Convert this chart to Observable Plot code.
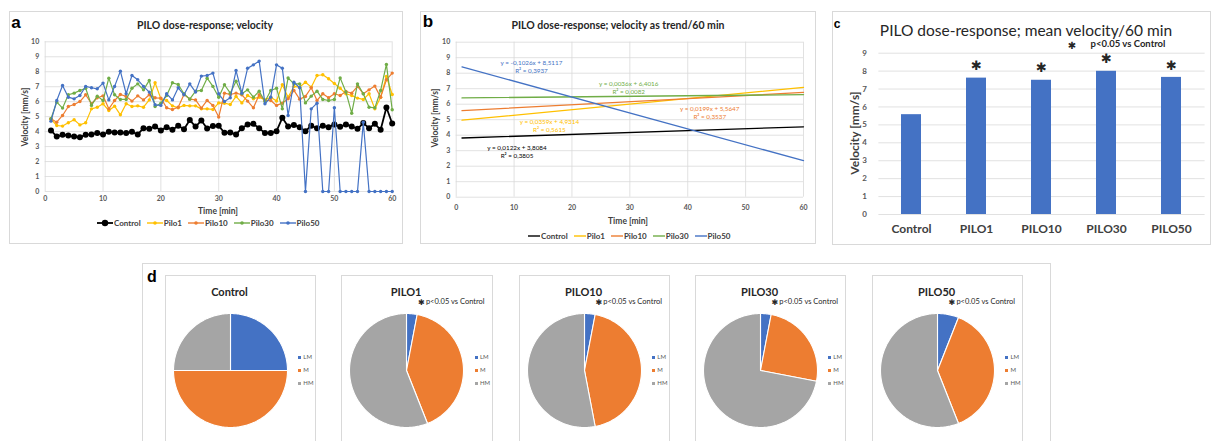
<!DOCTYPE html>
<html><head><meta charset="utf-8">
<script src="https://cdn.jsdelivr.net/npm/d3@7"></script>
<script src="https://cdn.jsdelivr.net/npm/@observablehq/plot@0.6"></script>
<style>
html,body{margin:0;padding:0;background:#fff}
body{position:relative;width:1211px;height:441px;overflow:hidden;font-family:Lato,"Open Sans",sans-serif;color:#404040}
.box{position:absolute;box-sizing:border-box;border:1px solid #d9d9d9;background:#fff}
.pl{position:absolute;line-height:0}
.pl svg{overflow:visible}
.t{position:absolute;white-space:pre;line-height:1}
.leg{position:absolute;display:flex;align-items:center;font-weight:700;font-size:8px;color:#404040;white-space:nowrap}
.leg .it{display:flex;align-items:center;margin-right:6px}
.leg svg{margin-right:1px}
.pleg{position:absolute;font-size:6px;color:#595959;line-height:1}
.pleg div{display:flex;align-items:center;height:13px}
.pleg i{display:inline-block;width:3px;height:3px;margin-right:2px}
</style></head><body>
<script>
// ---------------- data ----------------
const timeMin = [1,2,3,4,5,6,7,8,9,10,11,12,13,14,15,16,17,18,19,20,21,22,23,24,25,26,27,28,29,30,
  31,32,33,34,35,36,37,38,39,40,41,42,43,44,45,46,47,48,49,50,51,52,53,54,55,56,57,58,59,60];
const seriesNames = ["Control","Pilo1","Pilo10","Pilo30","Pilo50"];
const controlVel = [4.08,3.67,3.79,3.74,3.67,3.63,3.79,3.81,3.90,3.81,3.99,3.94,3.94,3.90,3.99,3.81,4.23,4.19,4.34,4.08,
  4.30,4.12,4.39,4.16,4.77,4.34,4.74,4.21,4.37,4.39,3.92,3.94,3.81,4.23,4.48,4.52,4.23,3.90,3.90,4.03,
  4.92,4.34,4.45,4.30,4.03,4.39,4.23,4.39,4.30,4.48,4.32,4.48,4.34,4.19,4.57,4.23,4.52,4.12,5.61,4.54];
const pilo1Vel = [4.83,4.41,4.37,4.59,4.79,4.45,4.59,5.52,5.63,5.86,5.41,5.70,5.12,5.86,5.68,5.72,5.63,6.12,7.26,6.19,
  6.08,5.72,5.59,5.75,5.72,5.72,5.52,5.52,5.48,5.92,5.90,5.81,6.35,5.92,6.41,6.19,6.30,6.12,6.30,6.05,
  7.13,6.30,7.02,6.97,7.30,6.97,7.75,7.80,7.53,7.22,6.90,6.53,6.41,6.24,6.15,6.53,5.52,6.30,7.68,6.48];
const pilo10Vel = [4.86,4.63,5.08,5.68,5.81,6.01,6.46,5.86,6.26,6.39,5.52,6.08,6.48,6.35,6.04,6.39,6.12,6.46,6.26,6.24,
  5.59,5.48,5.63,6.48,6.17,6.12,5.57,6.08,5.75,4.97,6.57,6.48,6.57,6.46,6.04,5.59,6.46,6.08,6.08,5.75,
  5.90,6.19,6.75,6.17,6.35,6.93,6.08,6.53,6.26,6.53,6.41,6.68,6.57,7.02,6.53,6.79,7.04,6.30,7.46,7.91];
const pilo30Vel = [4.86,5.97,5.57,6.46,6.57,6.75,6.90,5.75,6.37,6.08,7.57,6.46,6.15,6.15,6.90,7.19,6.79,7.42,5.68,5.90,
  6.41,7.26,7.15,6.53,6.17,6.70,6.75,7.57,7.02,6.30,7.13,6.57,7.37,6.53,6.79,6.30,6.70,6.01,6.75,6.90,
  5.52,7.59,7.19,7.19,5.92,6.37,6.70,6.15,6.08,6.15,7.59,6.64,5.23,7.19,6.53,5.63,5.59,6.75,8.49,5.46];
const pilo50Vel = [4.70,6.08,7.08,6.30,6.19,6.41,7.02,6.93,6.86,7.24,6.12,7.02,8.04,6.53,7.75,7.46,7.02,6.64,5.79,5.75,
  6.53,6.12,6.93,6.46,7.19,6.64,7.71,7.75,7.91,6.53,6.01,6.26,8.08,6.57,8.24,8.46,8.71,5.86,6.30,8.46,
  8.24,5.08,7.30,6.93,0,5.52,5.90,0,0,5.59,0,0,0,0,4.63,0,0,0,0,0];
const velocityTicks = [0,1,2,3,4,5,6,7,8,9,10];
const timeTicks = [0,10,20,30,40,50,60];

const trendSlope = [0.0122,0.0359,0.0199,0.0036,-0.1026];
const trendIntercept = [3.8084,4.9314,5.5647,6.4016,8.5117];
const trendR2 = [0.3805,0.5615,0.3537,0.0082,0.3937];

const groups = ["Control","PILO1","PILO10","PILO30","PILO50"];
const meanVelocity = [5.57,7.61,7.49,7.99,7.65];
const significant = [false,true,true,true,true];
const meanTicks = [0,1,2,3,4,5,6,7,8,9];

const motilityClasses = ["LM","M","HM"];
const shareControl = [25,50,25];
const sharePilo1 = [3,41,56];
const sharePilo10 = [3,44,53];
const sharePilo30 = [3,25,72];
const sharePilo50 = [6,38,56];
const pieTitles = ["Control","PILO1","PILO10","PILO30","PILO50"];
const pieSignificant = [false,true,true,true,true];

// ---------------- styles ----------------
const seriesColors = ["#000000","#FFC000","#ED7D31","#70AD47","#4472C4"];
const classColors = ["#4472C4","#ED7D31","#A5A5A5"];
const velocity = [controlVel,pilo1Vel,pilo10Vel,pilo30Vel,pilo50Vel];
const pieShares = [shareControl,sharePilo1,sharePilo10,sharePilo30,sharePilo50];
const gridStyle = {stroke:"#d9d9d9", strokeOpacity:1, strokeWidth:0.8};
const axisFont = {fontWeight:"bold"};

function addBox(l,t,w,h){const d=document.createElement("div");d.className="box";
  Object.assign(d.style,{left:l+"px",top:t+"px",width:w+"px",height:h+"px"});document.body.appendChild(d);return d;}
function addText(s,cx,cy,css,rot){const d=document.createElement("div");d.className="t";d.textContent=s;
  Object.assign(d.style,{left:cx+"px",top:cy+"px",transform:"translate(-50%,-50%)"+(rot?" rotate(-90deg)":"")},css||{});
  document.body.appendChild(d);return d;}
function addPlot(svg,l,t){const d=document.createElement("div");d.className="pl";d.style.left=l+"px";d.style.top=t+"px";
  d.appendChild(svg);document.body.appendChild(d);return d;}
function fmtDec(v){return v.toFixed(4).replace(".",",");}
function lineLegend(l,t,big){
  const lg=document.createElement("div");lg.className="leg";lg.style.left=l+"px";lg.style.top=t+"px";
  seriesNames.forEach((s,i)=>{
    const it=document.createElement("span");it.className="it";
    const w=big?16:12;
    let sw=`<svg width="${w}" height="8"><line x1="0" x2="${w}" y1="4" y2="4" stroke="${seriesColors[i]}" stroke-width="${big&&i===0?1.8:1.4}"/>`;
    if(big) sw+=`<circle cx="${w/2}" cy="4" r="${i===0?3.2:1.8}" fill="${seriesColors[i]}"/>`;
    sw+=`</svg>`;
    it.innerHTML=sw+`<span>${s}</span>`;lg.appendChild(it);
  });
  document.body.appendChild(lg);return lg;
}

const titleCss = {fontWeight:"700",fontSize:"10.5px",color:"#262626"};
const axTitleCss = {fontWeight:"700",fontSize:"8.5px",color:"#404040"};
const letterCss = {fontFamily:"'Liberation Sans',Arial,sans-serif",fontWeight:"700",fontSize:"17px",color:"#000"};

// ================= panel a =================
addBox(9,11,394,233);
addText("a",16,22,letterCss);
addText("PILO dose-response; velocity",205,25,titleCss);
const recordsA = seriesNames.flatMap((s,i)=>timeMin.map((t,j)=>({series:s,t,v:velocity[i][j]})));
const marksA = [
  Plot.gridY(velocityTicks,gridStyle), Plot.gridX(timeTicks,gridStyle),
  Plot.axisX(timeTicks,{tickSize:0,tickPadding:5,label:null,...axisFont}),
  Plot.axisY(velocityTicks,{tickSize:0,tickPadding:6,label:null,...axisFont})
];
seriesNames.forEach((s,i)=>{
  const rows=recordsA.filter(d=>d.series===s);
  marksA.push(Plot.line(rows,{x:"t",y:"v",stroke:"series",strokeWidth:i===0?1.8:1.2}));
  marksA.push(Plot.dot(rows,{x:"t",y:"v",fill:"series",r:i===0?3:1.7}));
});
addPlot(Plot.plot({
  width:394,height:200,marginLeft:35.7,marginRight:11.3,marginTop:30.3,marginBottom:20,
  style:{fontFamily:"Lato",fontSize:"7px",color:"#595959",background:"transparent",overflow:"visible"},
  x:{domain:[0,60]}, y:{domain:[0,10]},
  color:{domain:seriesNames,range:seriesColors},
  marks:marksA
}),9,11);
addText("Time [min]",218,211,axTitleCss);
addText("Velocity [mm/s]",25,117,axTitleCss,true);
lineLegend(97,218,true);

// ================= panel b =================
addBox(420,11,396,233);
addText("b",428,21,letterCss);
addText("PILO dose-response; velocity as trend/60 min",618,25,titleCss);
const trendRows = seriesNames.flatMap((s,i)=>[1,60].map(t=>({series:s,t,v:trendSlope[i]*t+trendIntercept[i]})));
const trendLabelAt = [[10.5,2.96],[16.1,4.66],[43.8,5.48],[29.8,7.10],[13.0,8.44]];
const trendLabels = seriesNames.map((s,i)=>({series:s,x:trendLabelAt[i][0],y:trendLabelAt[i][1],
  text:`y = ${fmtDec(trendSlope[i])}x + ${fmtDec(trendIntercept[i])}\nR² = ${fmtDec(trendR2[i])}`}));
addPlot(Plot.plot({
  width:396,height:200,marginLeft:35.7,marginRight:13,marginTop:30.7,marginBottom:14.3,
  style:{fontFamily:"Lato",fontSize:"7px",color:"#595959",background:"transparent",overflow:"visible"},
  x:{domain:[0,60]}, y:{domain:[0,10]},
  color:{domain:seriesNames,range:seriesColors},
  marks:[
    Plot.gridY(velocityTicks,gridStyle), Plot.gridX(timeTicks,gridStyle),
    Plot.axisX(timeTicks,{tickSize:0,tickPadding:8,label:null,...axisFont}),
    Plot.axisY(velocityTicks,{tickSize:0,tickPadding:6,label:null,...axisFont}),
    Plot.line(trendRows,{x:"t",y:"v",z:"series",stroke:"series",strokeWidth:1.3}),
    Plot.text(trendLabels,{x:"x",y:"y",text:"text",fill:"series",fontSize:6.3,lineHeight:1.3,textAnchor:"middle"})
  ]
}),420,11);
addText("Time [min]",628,221,axTitleCss);
addText("Velocity [mm/s]",435,118,axTitleCss,true);
lineLegend(528,231,false);

// ================= panel c =================
addBox(832,11,379,234);
addText("c",837,24,{...letterCss,fontSize:"12px"});
addText("PILO dose-response; mean velocity/60 min",1026,31,{fontWeight:"400",fontSize:"15.5px",color:"#262626"});
addText("✱",1072,46,{fontFamily:"'DejaVu Sans'",fontSize:"10px",color:"#262626"});
addText("p<0.05 vs Control",1128,44,{fontWeight:"700",fontSize:"9.5px",color:"#262626"});
const bars = groups.map((g,i)=>({group:g,value:meanVelocity[i],sig:significant[i]}));
addPlot(Plot.plot({
  width:378,height:200,marginLeft:46.4,marginRight:5.4,marginTop:12.7,marginBottom:26,
  style:{fontFamily:"Lato",fontSize:"8px",color:"#595959",background:"transparent",overflow:"visible"},
  x:{domain:groups,paddingInner:0.69,paddingOuter:0.345},
  y:{domain:[0,9]},
  marks:[
    Plot.gridY(meanTicks,gridStyle),
    Plot.axisY(meanTicks,{tickSize:0,tickPadding:12,label:null,...axisFont}),
    Plot.axisX({tickSize:0,tickPadding:10,label:null,fontSize:12,fontWeight:"bold",fill:"#404040"}),
    Plot.barY(bars,{x:"group",y:"value",fill:"#4472C4"}),
    Plot.text(bars.filter(d=>d.sig),{x:"group",y:"value",text:()=>"✱",dy:-12,fontSize:13,fontFamily:"DejaVu Sans",fill:"#262626"})
  ]
}),832,40);
addText("Velocity [mm/s]",855,133,{fontWeight:"700",fontSize:"12px",color:"#404040"},true);

// ================= panel d =================
addBox(142,263,909,200);
addText("d",152,277,{...letterCss,fontSize:"16px"});
const boxLeft = [164.8,341.4,518.8,694.8,871.9];
const R = 57;
function piePlot(shares){
  const arcs=d3.pie().sort(null)(shares);
  const marks=arcs.map((a,i)=>{
    const n=Math.max(2,Math.ceil((a.endAngle-a.startAngle)/0.02));
    const pts=[{x:0,y:0}];
    for(let k=0;k<=n;k++){const ang=a.startAngle+(a.endAngle-a.startAngle)*k/n;pts.push({x:Math.sin(ang),y:Math.cos(ang)});}
    return Plot.line(pts,{x:"x",y:"y",fill:classColors[i],stroke:"#ffffff",strokeWidth:1.1,curve:"linear-closed"});
  });
  const e=(R+2)/R;
  return Plot.plot({width:2*R+4,height:2*R+4,margin:0,x:{domain:[-e,e],axis:null},y:{domain:[-e,e],axis:null},
    style:{background:"transparent",overflow:"visible"},marks});
}
pieTitles.forEach((title,p)=>{
  const L=boxLeft[p];
  addBox(L,274.5,151.5,180);
  const cx=L+64.7, cy=370.2;
  addText(title,cx,291,{fontWeight:"700",fontSize:"11px",color:"#262626"});
  if(pieSignificant[p]){
    addText("✱",L+80,302.5,{fontFamily:"'DejaVu Sans'",fontSize:"8px",color:"#262626"});
    const s=addText("p<0.05 vs Control",L+84.5,302,{fontSize:"7.5px",color:"#262626"});
    s.style.transform="translate(0,-50%)";
  }
  addPlot(piePlot(pieShares[p]),cx-R-2,cy-R-2);
  const lg=document.createElement("div");lg.className="pleg";
  lg.style.left=(L+133.5)+"px";lg.style.top=(350.5)+"px";
  lg.innerHTML=motilityClasses.map((c,i)=>`<div><i style="background:${classColors[i]}"></i>${c}</div>`).join("");
  document.body.appendChild(lg);
});
</script></body></html>
